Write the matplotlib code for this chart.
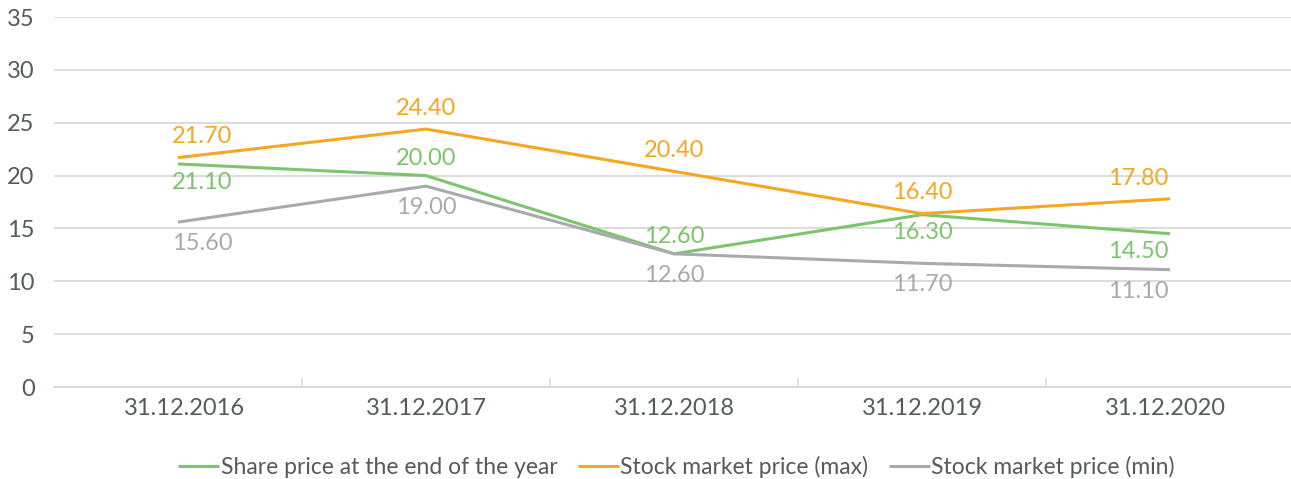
import matplotlib
matplotlib.use("Agg")
import matplotlib.pyplot as plt
from matplotlib.transforms import ScaledTranslation

categories = ["31.12.2016", "31.12.2017", "31.12.2018", "31.12.2019", "31.12.2020"]
share_end = [21.10, 20.00, 12.60, 16.30, 14.50]
price_max = [21.70, 24.40, 20.40, 16.40, 17.80]
price_min = [15.60, 19.00, 12.60, 11.70, 11.10]
series_names = ["Share price at the end of the year", "Stock market price (max)", "Stock market price (min)"]
# label placement: +1 above, -1 below
green_pos = [-1, 1, 1, -1, -1]
orange_pos = [1, 1, 1, 1, 1]
gray_pos = [-1, -1, -1, -1, -1]

GREEN = "#7dc46c"
ORANGE = "#f5a623"
GRAY = "#a9aaad"
TXT = "#555a5c"
GRID = "#d9d9d9"

plt.rcParams['font.family'] = ['Lato', 'DejaVu Sans']

fig = plt.figure(figsize=(12.91, 4.79), dpi=100)
ax = fig.add_axes([54 / 1291, 0.192, 1240 / 1291, 0.7725])

n = len(categories)
x = list(range(n))
for vals, col, name, pos, up, down in [(share_end, GREEN, series_names[0], green_pos, 12.5, -13),
                                       (price_max, ORANGE, series_names[1], orange_pos, 15, -13),
                                       (price_min, GRAY, series_names[2], gray_pos, 12.5, -15.5)]:
    ax.plot(x, vals, color=col, lw=2.2, label=name, solid_capstyle='butt')
    for xi, v, p in zip(x, vals, pos):
        if xi == 0:
            ha, dx = 'left', -4.5
        elif xi == n - 1:
            ha, dx = 'right', -1
        else:
            ha, dx = 'center', 0
        ax.annotate(f"{v:.2f}", (xi, v), xytext=(dx, up if p > 0 else down),
                    textcoords='offset points', ha=ha, va='center',
                    color=col, fontsize=17)

ax.set_xlim(-0.5, n - 0.5)
ax.set_ylim(0, 35)
ax.set_yticks(range(0, 36, 5))
ax.set_xticks(x)
ax.set_xticklabels(categories)
ax.set_xticks([i + 0.5 for i in range(n - 1)], minor=True)
ax.grid(axis='y', color=GRID, lw=1.3)
ax.set_axisbelow(True)
for s in ['top', 'right', 'left']:
    ax.spines[s].set_visible(False)
ax.spines['bottom'].set_color(GRID)
ax.spines['bottom'].set_linewidth(1.3)
ax.tick_params(axis='y', length=0, pad=14, labelsize=17, labelcolor=TXT)
ax.tick_params(axis='x', which='major', length=0, pad=8, labelsize=17, labelcolor=TXT)
ax.tick_params(axis='x', which='minor', direction='in', length=6, color=GRID, width=1.2)

labels = ax.get_xticklabels()
labels[0].set_transform(labels[0].get_transform() + ScaledTranslation(6 / 100, 0, fig.dpi_scale_trans))
labels[-1].set_transform(labels[-1].get_transform() + ScaledTranslation(-5 / 100, 0, fig.dpi_scale_trans))

leg = fig.legend(loc='center', bbox_to_anchor=(0.524, 0.025), ncol=3, frameon=False,
                 fontsize=16.5, handlelength=1.8, handletextpad=0.05, columnspacing=0.9)
for t in leg.get_texts():
    t.set_color(TXT)

fig.savefig("out.png", dpi=100)
